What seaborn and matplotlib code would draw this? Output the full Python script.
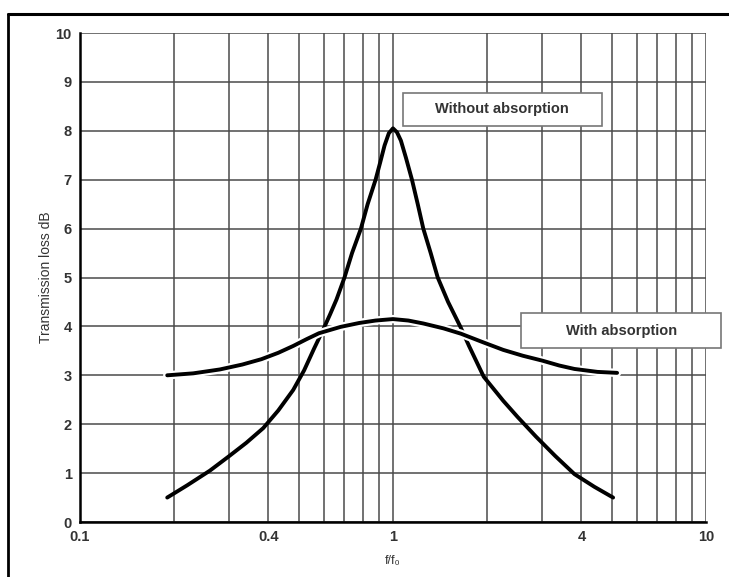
import seaborn as sns
import matplotlib.pyplot as plt
import matplotlib.patheffects as pe
from matplotlib.patches import Rectangle
from matplotlib.lines import Line2D
import pandas as pd

# courbe sans absorption (f/fo, dB)
without_x = [0.19, 0.22, 0.26, 0.30, 0.34, 0.385, 0.43, 0.48, 0.52, 0.56, 0.60, 0.63,
             0.66, 0.70, 0.74, 0.79, 0.83, 0.88, 0.91, 0.94, 0.97, 1.0, 1.03, 1.06,
             1.10, 1.15, 1.20, 1.25, 1.32, 1.39, 1.50, 1.64, 1.75, 1.95, 2.25, 2.5,
             2.86, 3.3, 3.8, 4.4, 5.05]
without_y = [0.5, 0.75, 1.05, 1.35, 1.62, 1.92, 2.28, 2.7, 3.1, 3.55, 3.95, 4.25,
             4.55, 5.0, 5.5, 6.0, 6.5, 7.0, 7.35, 7.7, 7.95, 8.05, 7.97, 7.8,
             7.45, 7.0, 6.5, 6.0, 5.5, 5.0, 4.5, 4.0, 3.6, 2.97, 2.48, 2.15,
             1.75, 1.35, 0.98, 0.72, 0.5]

# courbe avec absorption
with_x = [0.19, 0.23, 0.28, 0.33, 0.38, 0.43, 0.48, 0.53, 0.58, 0.68, 0.78, 0.88,
          1.0, 1.12, 1.25, 1.45, 1.65, 1.95, 2.25, 2.6, 3.0, 3.4, 3.8, 4.5, 5.2]
with_y = [3.0, 3.04, 3.12, 3.22, 3.33, 3.46, 3.6, 3.74, 3.86, 3.99, 4.07, 4.12,
          4.15, 4.12, 4.06, 3.96, 3.85, 3.67, 3.52, 3.4, 3.3, 3.2, 3.13, 3.07, 3.05]

x_grid = [0.1, 0.2, 0.3, 0.4, 0.5, 0.6, 0.7, 0.8, 0.9, 1, 2, 3, 4, 5, 6, 7, 8, 9, 10]
x_labels = {0.1: "0.1", 0.4: "0.4", 1: "1", 4: "4", 10: "10"}
y_ticks = list(range(0, 11))

df_without = pd.DataFrame({"f": without_x, "tl": without_y})
df_with = pd.DataFrame({"f": with_x, "tl": with_y})

sns.set_style("white")
plt.rcParams["font.family"] = ["Liberation Sans", "DejaVu Sans"]

fig = plt.figure(figsize=(7.29, 5.77), dpi=100)
ax = fig.add_axes([0.1097, 0.0953, 0.8587, 0.8475])

sns.lineplot(data=df_without, x="f", y="tl", ax=ax, color="black", lw=2.8,
             sort=False, zorder=3, solid_joinstyle="round")
sns.lineplot(data=df_with, x="f", y="tl", ax=ax, color="black", lw=2.8, sort=False,
             zorder=4, solid_joinstyle="round",
             path_effects=[pe.Stroke(linewidth=6, foreground="white"), pe.Normal()])

ax.set_xscale("log")
ax.set_xlim(0.1, 10)
ax.set_ylim(0, 10)
ax.set_xticks(x_grid)
ax.set_xticklabels([x_labels.get(v, "") for v in x_grid])
ax.xaxis.set_minor_locator(plt.NullLocator())
ax.set_yticks(y_ticks)
ax.set_yticklabels([str(v) for v in y_ticks])
ax.grid(True, color="#4a4a4a", lw=1.1)
ax.set_axisbelow(True)
ax.tick_params(length=0, labelsize=10.5, labelcolor="#333333", pad=6)
for lab in ax.get_xticklabels() + ax.get_yticklabels():
    lab.set_fontweight("bold")

for s in ["top", "right"]:
    ax.spines[s].set_visible(False)
for s in ["left", "bottom"]:
    ax.spines[s].set_color("black")
    ax.spines[s].set_linewidth(1.8)
    ax.spines[s].set_zorder(5)

ax.set_xlabel("f/f₀", fontsize=9, color="#333333", labelpad=8)
ax.set_ylabel("Transmission loss dB", fontsize=10, color="#333333", labelpad=2)

# encadrés des légendes
for x0, y0, w, h, txt, tx, ty in [
    (0.5528, 0.7816, 0.273, 0.0572, "Without absorption", 0.689, 0.811),
    (0.7147, 0.3969, 0.2743, 0.0607, "With absorption", 0.852, 0.427),
]:
    fig.add_artist(Rectangle((x0, y0), w, h, transform=fig.transFigure,
                             facecolor="white", edgecolor="#777777", lw=1.2, zorder=6))
    fig.text(tx, ty, txt, ha="center", va="center", fontsize=10.5,
             fontweight="bold", color="#333333", zorder=7)

# bordure noire de l'image
fig.add_artist(Line2D([8 / 729, 8 / 729], [0, 1 - 14 / 577], color="black", lw=2))
fig.add_artist(Line2D([8 / 729, 1], [1 - 14 / 577, 1 - 14 / 577], color="black", lw=2.2))

fig.savefig("out.png", dpi=100)
